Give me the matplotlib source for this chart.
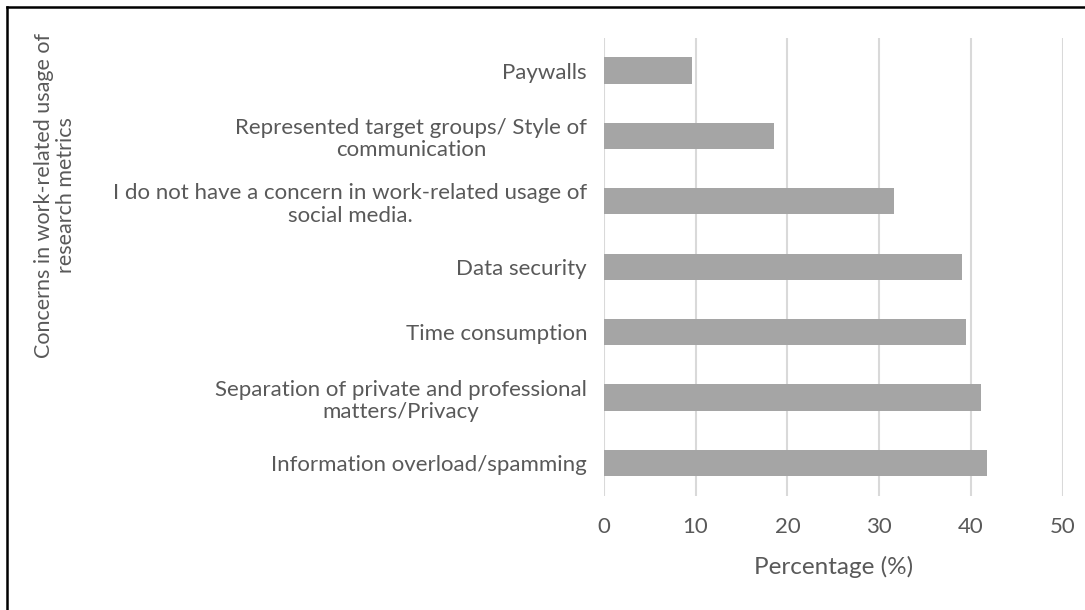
import matplotlib.pyplot as plt
from matplotlib.lines import Line2D

categories = [
    "Information overload/spamming",
    "Separation of private and professional\nmatters/Privacy",
    "Time consumption",
    "Data security",
    "I do not have a concern in work-related usage of\nsocial media.",
    "Represented target groups/ Style of\ncommunication",
    "Paywalls",
]
percent = [41.7, 41.1, 39.4, 39.0, 31.6, 18.5, 9.6]
x_ticks = [0, 10, 20, 30, 40, 50]

text_col = "#595959"
plt.rcParams["font.family"] = ["Lato", "DejaVu Sans"]

W, H = 1085, 610
fig = plt.figure(figsize=(W / 100, H / 100), dpi=100)
ax = fig.add_axes([603.7 / W, 1 - 495.7 / H, (1063 - 603.7) / W, (495.7 - 37.8) / H])

ax.barh(range(len(categories)), percent, height=0.4, color="#a5a5a5", zorder=3)
ax.set_ylim(-0.5, len(categories) - 0.5)
ax.set_xlim(0, 50)
ax.set_xticks(x_ticks)
ax.set_yticks(range(len(categories)))
ax.set_yticklabels(categories, multialignment="center", linespacing=1.15)
ax.grid(axis="x", color="#d9d9d9", linewidth=1.5, zorder=0)
for s in ax.spines.values():
    s.set_visible(False)
ax.tick_params(axis="y", length=0, pad=12, labelsize=16, labelcolor=text_col)
ax.tick_params(axis="x", length=0, pad=15, labelsize=16, labelcolor=text_col)
ax.set_xlabel("Percentage (%)", fontsize=17.5, color=text_col, labelpad=14)

fig.text(55 / W, 1 - 195 / H, "Concerns in work-related usage of\nresearch metrics",
         rotation=90, ha="center", va="center", multialignment="center",
         fontsize=15.5, color=text_col, linespacing=1.1)

# chart border (top and left edges visible)
fig.add_artist(Line2D([7 / W, 1], [1 - 7 / H, 1 - 7 / H], color="black", lw=1.8,
                      transform=fig.transFigure))
fig.add_artist(Line2D([7 / W, 7 / W], [0, 1 - 7 / H], color="black", lw=1.8,
                      transform=fig.transFigure))

fig.savefig("out.png", dpi=100)
